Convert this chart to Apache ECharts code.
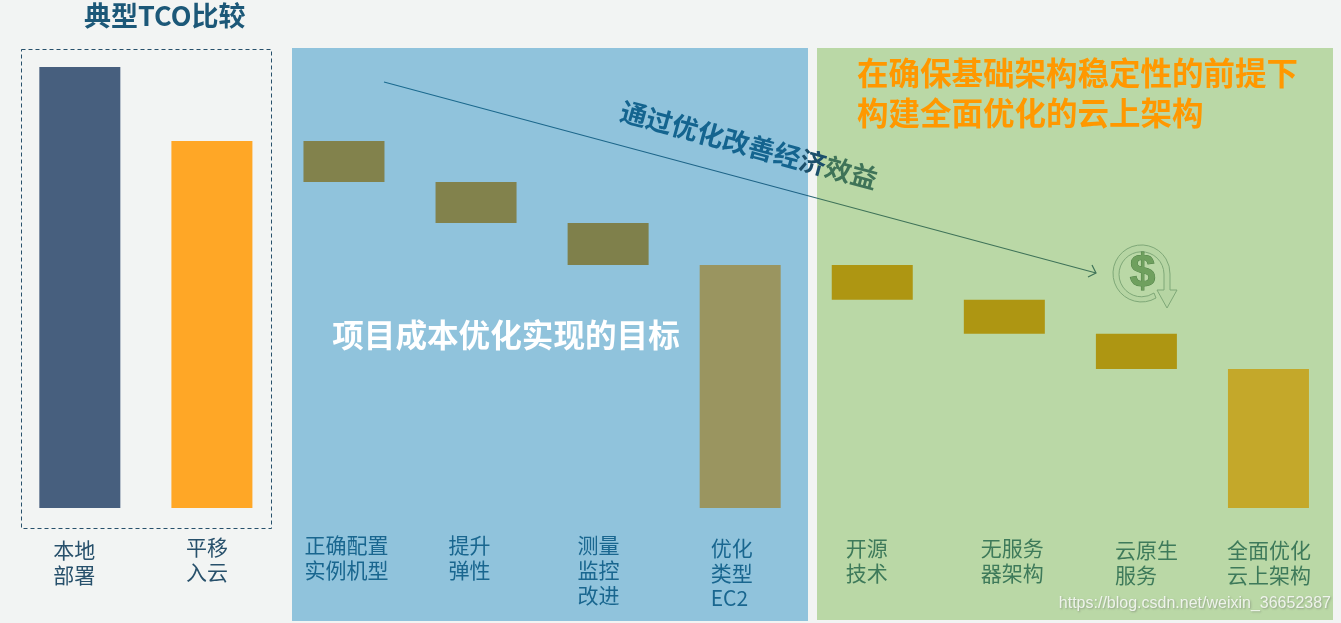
<!DOCTYPE html>
<html><head><meta charset="utf-8">
<style>html,body{margin:0;padding:0;background:#F2F4F3}#c{width:1341px;height:623px}</style>
<script src="https://cdn.jsdelivr.net/npm/echarts@6/dist/echarts.min.js"></script>
</head><body><div id="c"></div>
<script>
const categories = ['本地\n部署','平移\n入云','正确配置\n实例机型','提升\n弹性','测量\n监控\n改进','优化\n类型\nEC2','开源\n技术','无服务\n器架构','云原生\n服务','全面优化\n云上架构'];
const baseValues = [0,0,73.9,64.6,55.1,0,47.2,39.5,31.5,0];
const barValues = [100,83.2,9.3,9.3,9.5,55.1,7.9,7.7,8,31.5];
const barColors = ['#475F7E','#FFA726','#82824C','#82824C','#7F804B','#9A9560','#AE9612','#AE9612','#AE9612','#C4A82A'];
const labelColors = ['#27506B','#27506B','#19668F','#19668F','#19668F','#19668F','#3E7A5A','#3E7A5A','#3E7A5A','#3E7A5A'];
const labelShiftX = [-26.5,-26,-39.5,-27.5,-30.5,-29.5,-26.5,-23.5,-21.5,-41.5];
const labelShiftY = [3,0,-2,-2,-2,1,1,1,3,3];
const titleText = '典型TCO比较';
const middleText = '项目成本优化实现的目标';
const headlineText = '在确保基础架构稳定性的前提下\n构建全面优化的云上架构';
const watermarkText = 'https://blog.csdn.net/weixin_36652387';
const FONT = '"Noto Sans CJK SC","Noto Sans",sans-serif';

echarts.graphic.registerShape('ringArrow', echarts.graphic.extendPath(
  'M1156 298A28.5 28.5 0 1 1 1170 274L1170 290L1177 290L1167 308L1157 290L1164 290L1164 274A22.5 22.5 0 1 0 1154 293Z', {}));

const chart = echarts.init(document.getElementById('c'), null, {renderer:'canvas'});
chart.setOption({
  animation:false,
  backgroundColor:'#F2F4F3',
  title:{text:titleText,left:84,top:2,padding:0,textStyle:{fontFamily:FONT,fontSize:27,fontWeight:'bold',color:'#1C5878'}},
  grid:{left:13.8,right:6.5,top:67,bottom:115},
  xAxis:{type:'category',
    data:categories.map((c,i)=>({value:c,textStyle:{align:'left',verticalAlign:'top',color:labelColors[i],padding:[labelShiftY[i],0,0,labelShiftX[i]]}})),
    axisLine:{show:false},axisTick:{show:false},
    axisLabel:{interval:0,margin:27,fontFamily:FONT,fontSize:21,lineHeight:25,hideOverlap:false}},
  yAxis:{type:'value',min:0,max:100,show:false},
  series:[
    {type:'bar',stack:'s',barWidth:81,silent:true,itemStyle:{color:'transparent'},data:baseValues},
    {type:'bar',stack:'s',barWidth:81,silent:true,data:barValues.map((v,i)=>({value:v,itemStyle:{color:barColors[i]}}))}
  ],
  graphic:[
    {type:'rect',z:0,shape:{x:292,y:48,width:516,height:573},style:{fill:'#90C3DC'}},
    {type:'rect',z:0,shape:{x:817,y:48,width:516,height:572},style:{fill:'#BAD8A6'}},
    {type:'rect',z:0,shape:{x:21.5,y:49.5,width:250,height:479},style:{fill:'none',stroke:'#27506B',lineWidth:1,lineDash:[4,3]}},
    {type:'line',z:50,shape:{x1:384,y1:82,x2:1096,y2:273},style:{lineWidth:1.2,stroke:{type:'linear',x:0,y:0,x2:1,y2:0,colorStops:[{offset:0,color:'#1A6A8F'},{offset:.59,color:'#1F6386'},{offset:.62,color:'#3F7358'},{offset:1,color:'#3F7358'}]}}},
    {type:'polyline',z:50,shape:{points:[[1092,265],[1096,273],[1088,277]]},style:{fill:'none',stroke:'#3F7358',lineWidth:1.2}},
    {type:'ringArrow',z:50,style:{fill:'#B6D5A3',stroke:'#7FA878',lineWidth:1}},
    {type:'text',z:51,x:1142.5,y:274,style:{text:'$',fontFamily:'"Liberation Sans",sans-serif',fontSize:46,fontWeight:'bold',fill:'#6FA05E',stroke:'#4E7F45',lineWidth:1,align:'center',verticalAlign:'middle'}},
    {type:'text',z:60,x:506,y:335,style:{text:middleText,fontFamily:FONT,fontSize:31.6,fontWeight:'bold',fill:'#FFFFFF',align:'center',verticalAlign:'middle'}},
    {type:'text',z:60,x:857,y:93,style:{text:headlineText,fontFamily:FONT,fontSize:31.5,lineHeight:40,fontWeight:'bold',fill:'#FF9800',align:'left',verticalAlign:'middle'}},
    {type:'text',z:60,x:749,y:145,rotation:-15.2*Math.PI/180,style:{
      text:'{a|通过优化改善经}{b|济}{c|效益}',align:'center',verticalAlign:'middle',
      rich:{a:{fontFamily:FONT,fontSize:26.5,fontWeight:'bold',fill:'#14648F'},
            b:{fontFamily:FONT,fontSize:26.5,fontWeight:'bold',fill:'#1B4F6B'},
            c:{fontFamily:FONT,fontSize:26.5,fontWeight:'bold',fill:'#3F7358'}}}},
    {type:'text',z:70,x:1331,y:604,style:{text:watermarkText,fontFamily:'"Liberation Sans",sans-serif',fontSize:16,fill:'rgba(255,255,255,0.8)',align:'right',verticalAlign:'middle',textShadowColor:'rgba(90,90,90,0.55)',textShadowBlur:2,textShadowOffsetX:1,textShadowOffsetY:1}}
  ]
});
</script></body></html>
